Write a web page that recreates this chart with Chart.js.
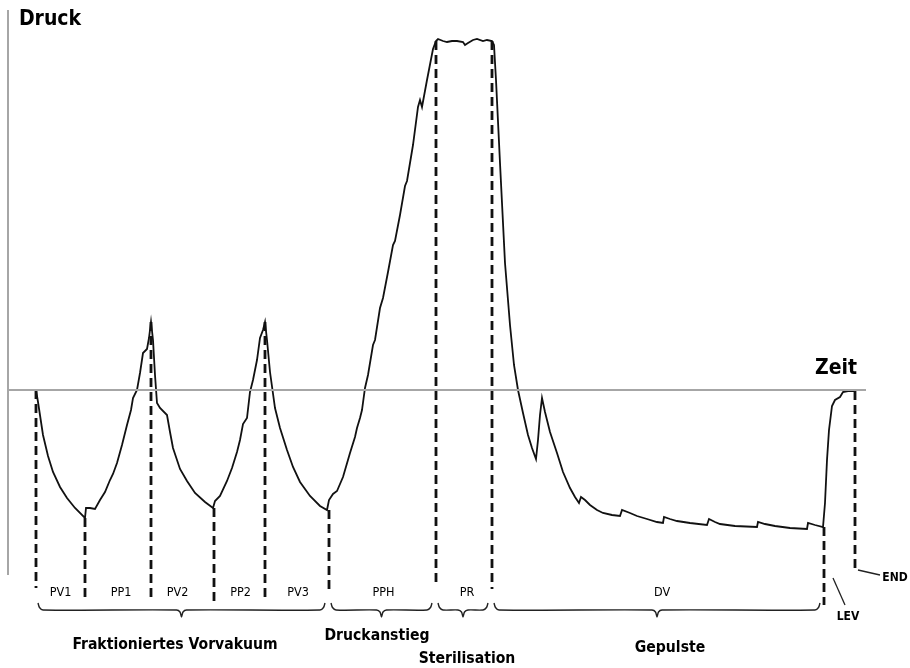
<!DOCTYPE html>
<html><head><meta charset="utf-8">
<script src="https://cdn.jsdelivr.net/npm/chart.js@4/dist/chart.umd.min.js"></script>
<style>html,body{margin:0;padding:0;background:#fff;}canvas{display:block;}</style>
</head><body>
<canvas id="c" width="910" height="668"></canvas>
<script>
// ---- data (time in arbitrary units, pressure relative to atmosphere, arbitrary units) ----
const curveTime = [8,36,38,43,48,53,60,67,75,85,86,90,95,100,105,110,113,117,122,127,131,133,137,140,143,147,149,151,153,155,157,160,167,170,173,180,187,195,205,213,215,220,227,232,237,240,243,247,250,253,257,260,263,265,267,270,275,280,287,293,300,310,320,327,329,333,337,343,350,355,357,360,362,365,368,373,375,380,383,388,393,395,400,405,407,413,418,420,422,427,433,436,438,443,447,452,457,463,465,468,473,477,483,487,492,494,496,500,505,510,514,518,523,528,532,536,538,540,542,545,550,557,563,570,575,579,581,585,590,597,603,612,620,622,630,637,647,657,663,664,670,677,690,707,709,715,720,735,757,758,765,775,790,807,808,815,823,825,827,829,832,835,840,843,848,855];
const curvePressure = [0,0,-12,-45,-66,-82,-97,-108,-118,-128,-118,-118,-119,-110,-102,-90,-84,-73,-55,-35,-20,-8,0,17,37,41,52,68,50,15,-13,-18,-25,-42,-58,-79,-91,-103,-112,-118,-111,-106,-91,-78,-62,-50,-34,-28,-2,10,30,52,60,68,50,18,-18,-38,-60,-77,-92,-106,-116,-120,-110,-104,-101,-87,-63,-47,-38,-28,-20,2,15,45,50,82,92,118,145,149,175,204,209,245,283,290,283,310,341,349,351,349,348,349,349,348,345,347,350,351,349,350,349,345,310,227,127,65,25,0,-23,-45,-58,-69,-50,-25,-8,-22,-42,-63,-82,-98,-107,-113,-107,-110,-115,-120,-123,-125,-126,-120,-123,-126,-129,-132,-133,-127,-129,-131,-133,-135,-129,-132,-134,-136,-137,-132,-134,-136,-138,-139,-133,-135,-137,-113,-70,-40,-16,-10,-7,-2,-1,-1];

// phase boundaries (time) and curve pressure at each boundary
const boundaryTime = [36,85,151,214,265,329,436,492,824,855];
const boundaryPressure = [0,-128,68,-118,68,-120,349,349,-137,-1];

const phaseLabels = ['PV1','PP1','PV2','PP2','PV3','PPH','PR','DV'];
const groupNames = ['Fraktioniertes Vorvakuum','Druckanstieg','Sterilisation','Gepulste'];
const groupSpans = [[0,5],[5,6],[6,7],[7,8]]; // boundary index ranges
const axisTitles = ['Druck','Zeit'];
const endLabels = ['LEV','END'];

// ---- layout (pixel-ish positions in chart coordinates, not data) ----
const X_MIN = 0, X_MAX = 910, Y_MIN = -278, Y_MAX = 390;
const markerBottom = [-198,-211,-208,-212,-207,-204,-195,-199,-215,-182];
const BR_END = -213, BR_LINE = -220, BR_TIP = -227;
const groupLabelPos = [[175,-255],[377,-246],[467,-269],[670,-258]];
const labelShift = [0,3,-5,1,1,1,3,4];
const LABEL_Y = -203;

function lineSeg(pts){ return pts.map(p=>({x:p[0],y:p[1]})); }

const markerPts = [];
boundaryTime.forEach((t,i)=>{
  markerPts.push({x:t,y:boundaryPressure[i]},{x:t,y:markerBottom[i]},{x:t,y:null});
});

const bracePts = [];
groupSpans.forEach(s=>{
  const x1 = boundaryTime[s[0]] + 2, x2 = boundaryTime[s[1]] - 4, cx = (x1+x2)/2;
  [[x1,BR_END],[x1+1.5,BR_LINE+2.5],[x1+5,BR_LINE],[cx-5,BR_LINE],[cx-1.5,BR_LINE-2],[cx,BR_TIP],
   [cx+1.5,BR_LINE-2],[cx+5,BR_LINE],[x2-5,BR_LINE],[x2-1.5,BR_LINE+2.5],[x2,BR_END]].forEach(p=>bracePts.push({x:p[0],y:p[1]}));
  bracePts.push({x:x2,y:null});
});

const curvePts = curveTime.map((t,i)=>({x:t,y:curvePressure[i]}));

const NARROW = '"Liberation Sans Narrow","DejaVu Sans Condensed",sans-serif';

const textPlugin = {
  id:'texts',
  afterDatasetsDraw(chart){
    const {ctx, scales:{x,y}} = chart;
    const X = v=>x.getPixelForValue(v), Y = v=>y.getPixelForValue(v);
    ctx.save();
    ctx.fillStyle = '#000';
    ctx.textAlign = 'center'; ctx.textBaseline = 'middle';
    // phase labels
    ctx.font = '12.5px ' + NARROW;
    phaseLabels.forEach((l,i)=>{
      const cx = (boundaryTime[i] + boundaryTime[i+1]) / 2 + labelShift[i];
      ctx.fillText(l, X(cx), Y(LABEL_Y));
    });
    // group labels
    ctx.font = 'bold 15.6px ' + NARROW;
    groupNames.forEach((g,i)=>ctx.fillText(g, X(groupLabelPos[i][0]), Y(groupLabelPos[i][1])));
    // axis titles
    ctx.font = 'bold 21px ' + NARROW;
    ctx.fillText(axisTitles[0], X(50), Y(370));
    ctx.fillText(axisTitles[1], X(836), Y(21));
    // LEV / END
    ctx.font = 'bold 12px ' + NARROW;
    ctx.fillText(endLabels[0], X(848), Y(-227));
    ctx.fillText(endLabels[1], X(895), Y(-188));
    ctx.restore();
  }
};

new Chart(document.getElementById('c'), {
  type:'scatter',
  data:{datasets:[
    {data:lineSeg([[8,380],[8,-185]]), showLine:true, borderColor:'#a6a6a6', borderWidth:2, pointRadius:0},
    {data:lineSeg([[8,0],[866,0]]), showLine:true, borderColor:'#a6a6a6', borderWidth:2, pointRadius:0},
    {data:markerPts, showLine:true, spanGaps:false, borderColor:'#111', borderWidth:2.8, borderDash:[9,5], pointRadius:0},
    {data:curvePts, showLine:true, borderColor:'#111', borderWidth:1.8, pointRadius:0, tension:0},
    {data:bracePts, showLine:true, spanGaps:false, borderColor:'#222', borderWidth:1.4, pointRadius:0, tension:0.3},
    {data:lineSeg([[833,-188],[845,-215]]), showLine:true, borderColor:'#222', borderWidth:1.3, pointRadius:0},
    {data:lineSeg([[858,-180],[880,-185]]), showLine:true, borderColor:'#222', borderWidth:1.3, pointRadius:0}
  ]},
  options:{
    responsive:false, animation:false, devicePixelRatio:1,
    layout:{padding:0},
    plugins:{legend:{display:false}, tooltip:{enabled:false}},
    scales:{
      x:{type:'linear', min:X_MIN, max:X_MAX, display:false},
      y:{type:'linear', min:Y_MIN, max:Y_MAX, display:false}
    }
  },
  plugins:[textPlugin]
});
</script>
</body></html>
